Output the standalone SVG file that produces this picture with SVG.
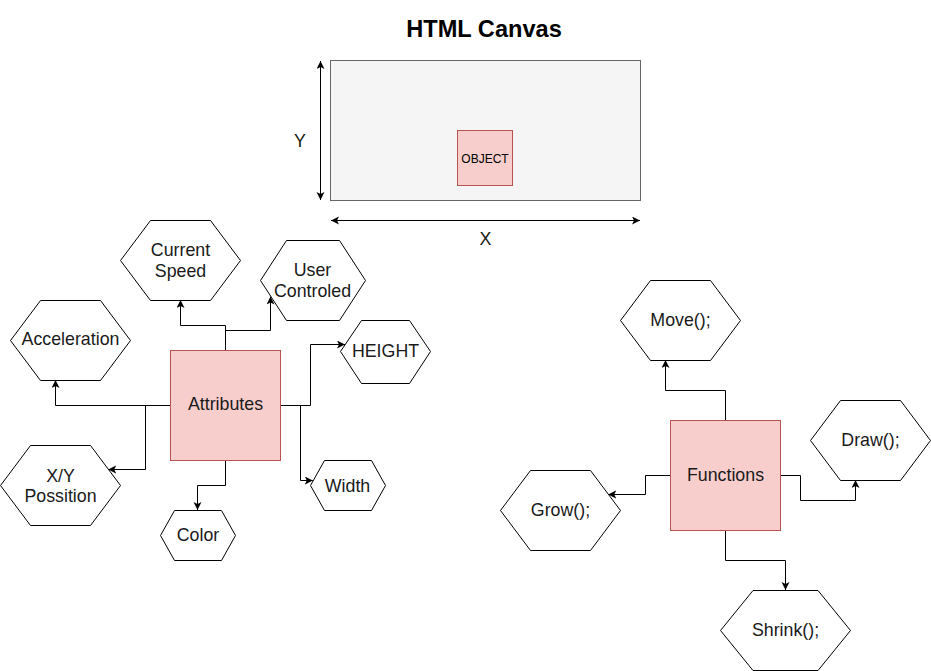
<svg xmlns="http://www.w3.org/2000/svg" width="931" height="671" viewBox="0 0 931 671">
<style>
.hex{fill:#ffffff;stroke:#000000;stroke-width:1}
.box{fill:#f8cecc;stroke:#b85450;stroke-width:1}
.t{font-family:"Liberation Sans",Arial,Helvetica,sans-serif;font-size:17.8px;fill:#1a1a1a;text-anchor:middle}
.c{fill:none;stroke:#000000;stroke-width:1}
</style>
<defs>
<marker id="arr" markerWidth="10" markerHeight="10" refX="8" refY="4" orient="auto-start-reverse" markerUnits="userSpaceOnUse">
<path d="M0,0 L8,4 L0,8 L2,4 Z" fill="#000000"/>
</marker>
</defs>
<rect width="931" height="671" fill="#ffffff"/>

<g id="title">
<text x="484" y="37" style="font-family:'Liberation Sans',Arial,sans-serif;font-size:23.6px;font-weight:bold;text-anchor:middle;fill:#000">HTML Canvas</text>
</g>

<g id="canvas">
<rect x="330.5" y="60.5" width="310" height="140" fill="#f5f5f5" stroke="#666666" stroke-width="1"/>
</g>
<g id="object">
<rect class="box" x="457.5" y="130.5" width="55" height="55"/>
<text x="485" y="163" style="font-family:'Liberation Sans',Arial,sans-serif;font-size:12px;text-anchor:middle;fill:#000">OBJECT</text>
</g>
<g id="label-y"><text class="t" x="300" y="146.5">Y</text></g>
<g id="label-x"><text class="t" x="485.5" y="245">X</text></g>

<g id="connectors">
<path class="c" d="M320.5,61 V200" marker-start="url(#arr)" marker-end="url(#arr)"/>
<path class="c" d="M331,220.5 H640" marker-start="url(#arr)" marker-end="url(#arr)"/>
<path class="c" d="M225.5,350 V325.5 H180.5 V300" marker-end="url(#arr)"/>
<path class="c" d="M225.5,350 V330.5 H270.5 V296.5" marker-end="url(#arr)"/>
<path class="c" d="M280,405.5 H310.5 V344.5 H345" marker-end="url(#arr)"/>
<path class="c" d="M280,405.5 H300.5 V480.5 H312.8" marker-end="url(#arr)"/>
<path class="c" d="M170,405.5 H55.5 V380" marker-end="url(#arr)"/>
<path class="c" d="M170,405.5 H145.5 V469.5 H108.2" marker-end="url(#arr)"/>
<path class="c" d="M225.5,460 V485.5 H197.5 V510" marker-end="url(#arr)"/>
<path class="c" d="M725.5,420 V390.5 H665.5 V360" marker-end="url(#arr)"/>
<path class="c" d="M780,475.5 H800.5 V500.5 H855.5 V480" marker-end="url(#arr)"/>
<path class="c" d="M670,475.5 H645.5 V494.5 H608.2" marker-end="url(#arr)"/>
<path class="c" d="M725.5,530 V560.5 H785.5 V590" marker-end="url(#arr)"/>
</g>

<g id="attributes">
<rect class="box" x="170.5" y="350.5" width="110" height="110"/>
<text class="t" x="225.5" y="410">Attributes</text>
</g>
<g id="current-speed">
<polygon class="hex" points="120.5,260.5 150.5,220.5 210.5,220.5 240.5,260.5 210.5,300.5 150.5,300.5"/>
<text class="t" x="180.5" y="256">Current</text>
<text class="t" x="180.5" y="276.5">Speed</text>
</g>
<g id="user-controled">
<polygon class="hex" points="260.5,280.5 286.5,240.5 339.5,240.5 365.5,280.5 339.5,320.5 286.5,320.5"/>
<text class="t" x="312.5" y="276">User</text>
<text class="t" x="312.5" y="296.5">Controled</text>
</g>
<g id="acceleration">
<polygon class="hex" points="10.5,340.5 40.5,300.5 100.5,300.5 130.5,340.5 100.5,380.5 40.5,380.5"/>
<text class="t" x="70.5" y="345">Acceleration</text>
</g>
<g id="xy-possition">
<polygon class="hex" points="0.5,485.5 30.5,445.5 90.5,445.5 120.5,485.5 90.5,525.5 30.5,525.5"/>
<text class="t" x="60.5" y="481.5">X/Y</text>
<text class="t" x="60.5" y="501.5">Possition</text>
</g>
<g id="height">
<polygon class="hex" points="340.5,351.5 361.5,320.5 409.5,320.5 430.5,351.5 409.5,383.5 361.5,383.5"/>
<text class="t" x="385.5" y="357">HEIGHT</text>
</g>
<g id="width">
<polygon class="hex" points="310.5,485.5 324.5,460.5 371.5,460.5 385.5,485.5 371.5,510.5 324.5,510.5"/>
<text class="t" x="347.5" y="491.5">Width</text>
</g>
<g id="color">
<polygon class="hex" points="160.5,535.5 174.5,510.5 221.5,510.5 235.5,535.5 221.5,560.5 174.5,560.5"/>
<text class="t" x="198" y="541">Color</text>
</g>

<g id="functions">
<rect class="box" x="670.5" y="420.5" width="110" height="110"/>
<text class="t" x="725.5" y="481">Functions</text>
</g>
<g id="move">
<polygon class="hex" points="620.5,320.5 650.5,280.5 710.5,280.5 740.5,320.5 710.5,360.5 650.5,360.5"/>
<text class="t" x="680.5" y="326">Move();</text>
</g>
<g id="draw">
<polygon class="hex" points="810.5,440.5 840.5,400.5 900.5,400.5 930.5,440.5 900.5,480.5 840.5,480.5"/>
<text class="t" x="870.5" y="446">Draw();</text>
</g>
<g id="grow">
<polygon class="hex" points="500.5,510.5 530.5,470.5 590.5,470.5 620.5,510.5 590.5,550.5 530.5,550.5"/>
<text class="t" x="560.5" y="516">Grow();</text>
</g>
<g id="shrink">
<polygon class="hex" points="720.5,630.5 753,590.5 818,590.5 850.5,630.5 818,670.5 753,670.5"/>
<text class="t" x="785.5" y="636">Shrink();</text>
</g>
</svg>
